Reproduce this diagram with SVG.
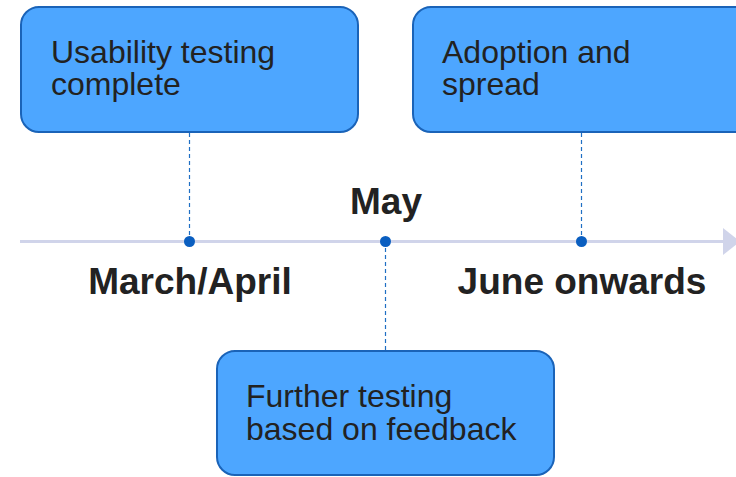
<svg xmlns="http://www.w3.org/2000/svg" width="736" height="477" viewBox="0 0 736 477">
  <style>
    .box { fill: #4da6ff; stroke: #1a63b8; stroke-width: 2; }
    .label { font-family: "Liberation Sans", Arial, sans-serif; font-size: 32px; fill: #222222; }
    .date { font-family: "Liberation Sans", Arial, sans-serif; font-size: 37px; font-weight: bold; fill: #222222; text-anchor: middle; }
    .stem { stroke: #1f6fc4; stroke-width: 1.2; stroke-dasharray: 4 3; fill: none; }
    .dot { fill: #0a5ec0; }
  </style>

  <!-- timeline axis -->
  <g id="axis">
    <line x1="20" y1="241.5" x2="724" y2="241.5" stroke="#d0d4ea" stroke-width="3"/>
    <polygon points="723,228 740,241.5 723,255" fill="#d0d4ea"/>
  </g>

  <!-- connectors from milestones to the axis -->
  <g id="connectors">
    <line class="stem" x1="189.5" y1="133" x2="189.5" y2="241"/>
    <line class="stem" x1="581.5" y1="133" x2="581.5" y2="241"/>
    <line class="stem" x1="385.5" y1="241" x2="385.5" y2="350"/>
    <circle class="dot" cx="189.5" cy="241.5" r="5.5"/>
    <circle class="dot" cx="385.5" cy="241.5" r="5.5"/>
    <circle class="dot" cx="581.5" cy="241.5" r="5.5"/>
  </g>

  <g id="node-usability">
    <rect class="box" x="21" y="7" width="337" height="125" rx="18"/>
    <text class="label" x="51" y="63">Usability testing</text>
    <text class="label" x="51" y="95">complete</text>
  </g>

  <g id="node-adoption">
    <rect class="box" x="413" y="7" width="345" height="125" rx="18"/>
    <text class="label" x="442" y="63">Adoption and</text>
    <text class="label" x="442" y="95">spread</text>
  </g>

  <g id="node-further">
    <rect class="box" x="217" y="351" width="337" height="124" rx="18"/>
    <text class="label" x="246" y="407">Further testing</text>
    <text class="label" x="246" y="440">based on feedback</text>
  </g>

  <g id="dates">
    <text class="date" x="386" y="214">May</text>
    <text class="date" x="190" y="294">March/April</text>
    <text class="date" x="582" y="294">June onwards</text>
  </g>
</svg>
